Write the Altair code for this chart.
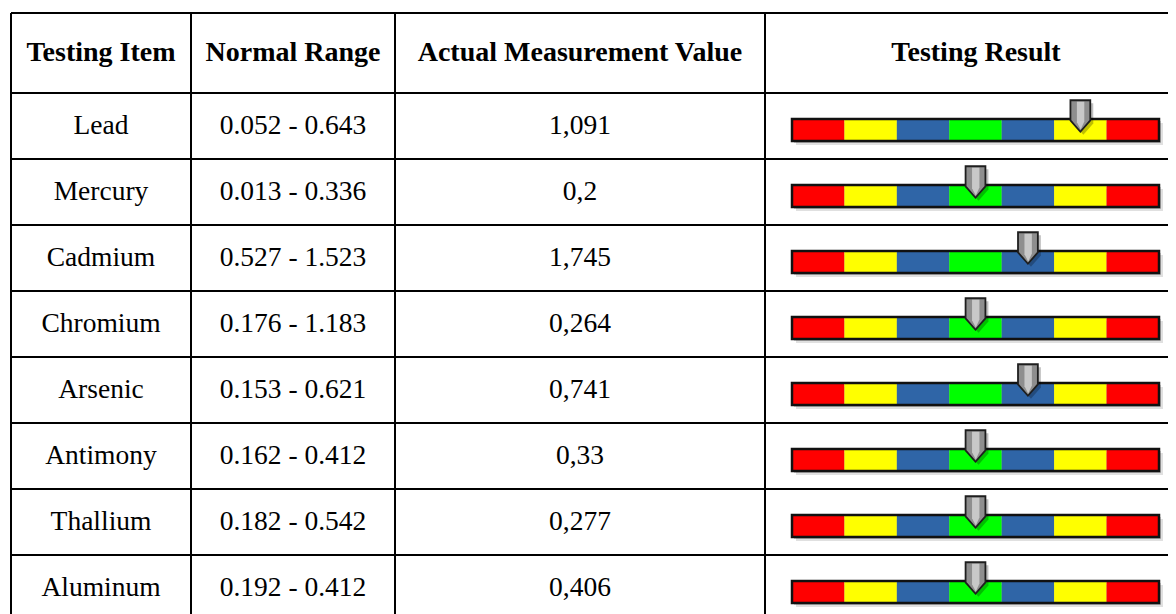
import altair as alt
import pandas as pd

# ---------------- data ----------------
headers = ["Testing Item", "Normal Range", "Actual Measurement Value", "Testing Result"]
items = ["Lead", "Mercury", "Cadmium", "Chromium", "Arsenic", "Antimony", "Thallium", "Aluminum"]
normal_ranges = ["0.052 - 0.643", "0.013 - 0.336", "0.527 - 1.523", "0.176 - 1.183",
                 "0.153 - 0.621", "0.162 - 0.412", "0.182 - 0.542", "0.192 - 0.412"]
measured = ["1,091", "0,2", "1,745", "0,264", "0,741", "0,33", "0,277", "0,406"]
# zone (0..6) of the gauge in which the pointer sits
result_zone = [5, 3, 4, 3, 4, 3, 3, 3]
zone_colors = ["#FF0000", "#FFFF00", "#2F65A7", "#00FF00", "#2F65A7", "#FFFF00", "#FF0000"]

# ---------------- layout ----------------
W, H = 1160, 606
COL_X = [3, 183, 387, 757, 1179]
HEADER_TOP, HEADER_BOTTOM, ROW_H = 5, 85, 66
BAR_LEFT, BAR_RIGHT = 784, 1151
N_ZONES = len(zone_colors)
SEG_W = (BAR_RIGHT - BAR_LEFT) / N_ZONES
BAR_TOP_OFF, BAR_BOT_OFF = 26, 48
MARK_CENTER_OFF = 23
FONT = "Liberation Serif"
FS = 27.5
FS_HEAD = 28

xs = alt.Scale(domain=[0, W], nice=False, zero=False)
ys = alt.Scale(domain=[0, H], nice=False, zero=False, reverse=True)

def X(f):
    return alt.X(f, type="quantitative", scale=xs, axis=None)

def Y(f):
    return alt.Y(f, type="quantitative", scale=ys, axis=None)

# rows table
rows = []
for i, (it, rg, mv, z) in enumerate(zip(items, normal_ranges, measured, result_zone)):
    top = HEADER_BOTTOM + i * ROW_H
    rows.append(dict(item=it, rng=rg, val=mv, zone=z, top=top, mid=top + ROW_H / 2,
                     bar_y=top + BAR_TOP_OFF, bar_y2=top + BAR_BOT_OFF,
                     mk_x=BAR_LEFT + (z + 0.5) * SEG_W, mk_y=top + MARK_CENTER_OFF))
rows_df = pd.DataFrame(rows)

zones = []
for r in rows:
    for k, c in enumerate(zone_colors):
        zones.append(dict(x=BAR_LEFT + k * SEG_W, x2=BAR_LEFT + (k + 1) * SEG_W,
                          y=r["bar_y"], y2=r["bar_y2"], color=c))
zones_df = pd.DataFrame(zones)

header_df = pd.DataFrame(dict(text=headers,
                              x=[(COL_X[j] + COL_X[j + 1]) / 2 for j in range(4)],
                              y=[(HEADER_TOP + HEADER_BOTTOM) / 2] * 4))

hlines = [HEADER_TOP, HEADER_BOTTOM] + [HEADER_BOTTOM + (i + 1) * ROW_H for i in range(len(items))]
hl_df = pd.DataFrame(dict(y=hlines, x=[COL_X[0]] * len(hlines), x2=[W + 20] * len(hlines)))
vl_df = pd.DataFrame(dict(x=COL_X, y=[HEADER_TOP] * len(COL_X), y2=[H + 20] * len(COL_X)))

# ---------------- layers ----------------
hl = alt.Chart(hl_df).mark_rule(color="black", strokeWidth=2).encode(x=X("x"), x2="x2", y=Y("y"))
vl = alt.Chart(vl_df).mark_rule(color="black", strokeWidth=2).encode(x=X("x"), y=Y("y"), y2="y2")

head = alt.Chart(header_df).mark_text(font=FONT, fontSize=FS_HEAD, fontWeight="bold", color="black",
                                      baseline="middle", align="center").encode(
    x=X("x"), y=Y("y"), text="text:N")

base = alt.Chart(rows_df)
col_texts = []
for j, f in enumerate(["item", "rng", "val"]):
    col_texts.append(base.mark_text(font=FONT, fontSize=FS, color="black", baseline="middle",
                                    align="center").encode(
        x=alt.value((COL_X[j] + COL_X[j + 1]) / 2), y=Y("mid"), text=f"{f}:N"))

shadow1 = base.transform_calculate(sx=f"{BAR_LEFT}+4", sx2=f"{BAR_RIGHT}+4",
                                   sy="datum.bar_y+4", sy2="datum.bar_y2+4").mark_rect(
    color="#000000", opacity=0.12).encode(x=X("sx"), x2="sx2", y=Y("sy"), y2="sy2")
shadow2 = base.transform_calculate(sx=f"{BAR_LEFT}+2", sx2=f"{BAR_RIGHT}+2",
                                   sy="datum.bar_y+2", sy2="datum.bar_y2+2").mark_rect(
    color="#000000", opacity=0.18).encode(x=X("sx"), x2="sx2", y=Y("sy"), y2="sy2")

zone_rects = alt.Chart(zones_df).mark_rect().encode(
    x=X("x"), x2="x2", y=Y("y"), y2="y2", color=alt.Color("color:N", scale=None))

outline = base.transform_calculate(bx=f"{BAR_LEFT}", bx2=f"{BAR_RIGHT}").mark_rect(
    fill=None, stroke="#111111", strokeWidth=2.5).encode(x=X("bx"), x2="bx2", y=Y("bar_y"), y2="bar_y2")

PTR = "M-0.63,-1 L0.63,-1 L0.63,0.28 L0,1 L-0.63,0.28 Z"
STRIPE = "M-0.22,-0.9 L0.25,-0.9 L0.25,0.35 L0.02,0.85 L-0.22,0.4 Z"
MSIZE = 31.5 ** 2

ptr_shadow = base.transform_calculate(sx="datum.mk_x+3", sy="datum.mk_y+3").mark_point(
    shape=PTR, size=MSIZE, filled=True, color="#000000", opacity=0.25, strokeWidth=0).encode(
    x=X("sx"), y=Y("sy"))
ptr = base.mark_point(shape=PTR, size=MSIZE, filled=True, fill="#8E8E8E", stroke="#1E1E1E",
                      strokeWidth=1.8, opacity=1).encode(x=X("mk_x"), y=Y("mk_y"))
stripe = base.mark_point(shape=STRIPE, size=MSIZE, filled=True, fill="#C8C8C8", strokeWidth=0,
                         opacity=1).encode(x=X("mk_x"), y=Y("mk_y"))

chart = alt.layer(hl, vl, head, *col_texts, shadow1, shadow2, zone_rects, outline,
                  ptr_shadow, ptr, stripe).properties(
    width=W, height=H, padding=0, autosize=alt.AutoSizeParams(type="none")
).configure_view(stroke=None)

chart.save("out.html", embed_options={"renderer": "svg", "actions": False})
